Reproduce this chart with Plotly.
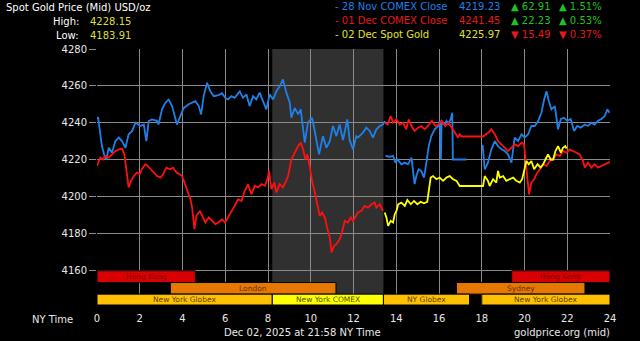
import plotly.graph_objects as go

# ---------------- data ----------------
nov28_hours = [0.0, 0.05, 0.23, 0.35, 0.44, 0.55, 0.7, 0.86, 1.02, 1.17, 1.33, 1.48, 1.64, 1.8, 2.03, 2.19, 2.31, 2.42,
               2.57, 2.81, 2.88, 3.04, 3.2, 3.35, 3.51, 3.67, 3.74, 3.9, 4.06, 4.29, 4.45, 4.6, 4.76, 4.87, 4.99, 5.15,
               5.3, 5.46, 5.69, 5.85, 6.0, 6.13, 6.29, 6.44, 6.68, 6.83, 6.99, 7.14, 7.3, 7.45, 7.61, 7.77, 7.92, 8.08,
               8.24, 8.39, 8.55, 8.7, 8.86, 9.02, 9.09, 9.25, 9.41, 9.53, 9.64, 9.72, 9.87, 10.06, 10.17, 10.39, 10.57,
               10.73, 10.89, 11.04, 11.2, 11.35, 11.51, 11.71, 11.82, 11.98, 12.13, 12.21, 12.44, 12.6, 12.76, 12.91,
               13.07, 13.23, 13.38, 13.47, None,
               13.5, 13.7, 13.85, 13.96, 14.07, 14.24, 14.4, 14.55, 14.71, 14.79, 14.86, 14.94, 15.05, 15.17, 15.3,
               15.41, 15.52, 15.64, 15.8, 15.95, 16.06, 16.09, 16.12, 16.27, 16.35, 16.45, 16.55, 16.62, 16.65, 17.28,
               None,
               18.04, 18.14, 18.22, 18.29, 18.45, 18.61, 18.76, 18.92, 19.08, 19.23, 19.39, 19.47, 19.54, 19.7, 19.86,
               20.01, 20.17, 20.32, 20.48, 20.64, 20.79, 20.92, 21.03, 21.13, 21.26, 21.42, 21.57, 21.7, 21.85, 22.0,
               22.16, 22.32, 22.47, 22.63, 22.82, 22.97, 23.13, 23.28, 23.44, 23.6, 23.75, 23.88, 23.98]
nov28_price = [4241.8, 4243, 4227.3, 4221.9, 4220, 4226.4, 4223.7, 4230, 4231.9, 4230, 4226.4, 4233.7, 4235.4, 4240,
               4238.2, 4239, 4230, 4240.9, 4241.8, 4241, 4239, 4247.2, 4250.8, 4252.6, 4249, 4242.7, 4239, 4243.6,
               4248, 4250, 4250.8, 4251.7, 4249, 4244.5, 4254.4, 4261.7, 4257, 4254.4, 4255, 4256, 4253.5, 4252.6,
               4254.4, 4253.5, 4257, 4253.5, 4255.4, 4249, 4254.4, 4252.6, 4256.3, 4251, 4247.2, 4255.4, 4252.6, 4257,
               4259.8, 4263.5, 4256.3, 4250.8, 4242.7, 4248, 4244.5, 4247.2, 4238.2, 4229.2, 4240, 4242.7, 4236.4,
               4222.8, 4232.7, 4226.4, 4230, 4238.2, 4232.7, 4239, 4230.5, 4241.8, 4230.5, 4225.5, 4232.7, 4231.9,
               4234.6, 4237.3, 4235.5, 4231.9, 4236.4, 4238.2, 4239, 4240.9, None,
               4221.9, 4221.5, 4222, 4218.3, 4220, 4217.4, 4218.3, 4217.4, 4221, 4213.8, 4206.6, 4211, 4214.7, 4213.8,
               4210.2, 4218.3, 4227.3, 4232.7, 4236.4, 4238, 4241, 4220, 4240, 4239, 4241, 4239.5, 4242, 4245.4, 4220,
               4220, None,
               4228, 4214.7, 4216.5, 4218.3, 4225.5, 4230, 4227.3, 4225.5, 4224.6, 4222.8, 4218.3, 4226.4, 4231.9,
               4230, 4233.7, 4231.9, 4233.7, 4238.2, 4238.2, 4240.9, 4245.4, 4252.6, 4257.1, 4252, 4247.2, 4249,
               4236.4, 4242, 4242.7, 4241, 4242, 4235.5, 4238.2, 4237.3, 4239, 4238.2, 4240, 4239, 4241, 4242, 4243.6,
               4247.2, 4245.4]

dec01_hours = [0.0, 0.08, 0.15, 0.28, 0.39, 0.55, 0.7, 0.86, 1.02, 1.17, 1.28, 1.4, 1.48, 1.59, 1.72, 1.87, 2.0, 2.1,
               2.26, 2.37, 2.5, 2.65, 2.81, 2.97, 3.09, 3.25, 3.41, 3.56, 3.72, 3.87, 3.98, 4.09, 4.21, 4.37, 4.45,
               4.56, 4.65, 4.81, 4.92, 5.07, 5.23, 5.38, 5.54, 5.69, 5.85, 5.99, 6.13, 6.29, 6.44, 6.6, 6.76, 6.91,
               7.07, 7.22, 7.38, 7.54, 7.69, 7.85, 7.97, 8.05, 8.16, 8.29, 8.39, 8.55, 8.7, 8.81, 8.94, 9.09, 9.25,
               9.41, 9.53, 9.64, 9.75, 9.84, 9.95, 10.06, 10.19, 10.31, 10.42, 10.53, 10.66, 10.78, 10.89, 10.97,
               11.09, 11.2, 11.35, 11.46, 11.59, 11.74, 11.87, 11.98, 12.13, 12.21, 12.37, 12.52, 12.68, 12.84,
               12.99, 13.07, 13.23, 13.38, None,
               13.49, 13.6, 13.74, 13.85, 14.01, 14.16, 14.32, 14.47, 14.58, 14.71, 14.86, 15.02, 15.17, 15.33,
               15.48, 15.67, 15.83, 15.98, 16.13, 16.29, 16.45, 16.6, 16.73, 16.89, 16.97, 17.05, 18.06, 18.2, 18.35,
               18.45, 18.61, 18.76, 18.92, 19.08, 19.23, 19.39, 19.54, 19.7, 19.86, 19.98, 20.04, 20.14, 20.21,
               20.32, 20.45, 20.56, 20.71, 20.87, 21.03, 21.18, 21.34, 21.49, 21.65, 21.8, 21.96, 22.11, 22.27,
               22.42, 22.58, 22.74, 22.82, 22.97, 23.13, 23.28, 23.44, 23.6, 23.75, 23.91, 24.0]
dec01_price = [4216.5, 4219.2, 4221, 4220, 4221.9, 4221, 4222.8, 4224.6, 4225.5, 4225.8, 4222.8, 4210.2, 4204.8,
               4208.3, 4211, 4212.9, 4212, 4214.7, 4217.4, 4216.5, 4214.7, 4212.9, 4211, 4210.2, 4212, 4215.6,
               4214.7, 4215.6, 4212.9, 4212, 4211, 4207.5, 4203.9, 4198.4, 4193.9, 4182.2, 4189.4, 4192.1, 4189.4,
               4185.8, 4188.5, 4186.7, 4184.9, 4185.8, 4187.6, 4185.8, 4188.5, 4192.1, 4194.8, 4198.4, 4197.5,
               4203, 4206.6, 4201.1, 4205.7, 4204.8, 4206.6, 4205.7, 4209.3, 4213.8, 4203.9, 4207.5, 4202.1, 4206.6,
               4204.8, 4207.5, 4211, 4220, 4223.7, 4227.3, 4229.2, 4225.5, 4220, 4222.8, 4216.5, 4208.4, 4202.1,
               4194.8, 4189.4, 4191.2, 4188.5, 4182.2, 4177.7, 4169.5, 4173.1, 4174, 4176.7, 4180.4, 4186.7, 4185.8,
               4188.5, 4186.7, 4189.4, 4191.2, 4192.1, 4194.8, 4193.9, 4195.7, 4196.6, 4193.9, 4195.7, 4192.1, None,
               4240, 4239, 4243.6, 4240, 4241.8, 4239, 4240, 4236.4, 4241.8, 4238.2, 4235.5, 4237.3, 4238.2, 4236.4,
               4238.2, 4241, 4238.2, 4239, 4241, 4238.2, 4240, 4237.3, 4234.6, 4231.9, 4233.7, 4232.5, 4232.5,
               4233.5, 4235, 4236.4, 4233.7, 4230, 4228.2, 4226.4, 4224.6, 4226.4, 4228.2, 4227.3, 4229.1, 4228.2,
               4220, 4209.3, 4201.1, 4207.5, 4209.3, 4212, 4214.7, 4217.4, 4216.5, 4219.2, 4220, 4222.8, 4221.9,
               4224.6, 4223.7, 4225.5, 4224.6, 4223.7, 4222.8, 4219.2, 4215.6, 4218.3, 4215.6, 4217.4, 4215.6,
               4216.5, 4217.4, 4218.3, 4218.7]

dec02_hours = [13.46, 13.54, 13.62, 13.74, 13.85, 13.93, 14.01, 14.09, 14.24, 14.4, 14.52, 14.68, 14.83, 14.99,
               15.14, 15.3, 15.45, 15.52, 15.61, 15.72, 15.88, 16.03, 16.19, 16.35, 16.5, 16.66, 16.82, 16.97, 18.06,
               18.14, 18.29, 18.37, 18.53, 18.68, 18.76, 18.84, 19.0, 19.15, 19.31, 19.47, 19.62, 19.78, 19.89,
               20.01, 20.09, 20.2, 20.32, 20.45, 20.61, 20.76, 20.87, 20.98, 21.1, 21.23, 21.34, 21.45, 21.57, 21.7,
               21.8, 21.91, 21.97]
dec02_price = [4191.2, 4188.5, 4184, 4186.7, 4185.8, 4190.3, 4192.1, 4195.7, 4196.6, 4194.8, 4198, 4195.7, 4197.5,
               4195.7, 4197, 4196.2, 4197, 4202, 4210.2, 4211, 4209.3, 4210.2, 4208.4, 4210.2, 4211, 4209.3, 4208.4,
               4205.6, 4205.6, 4211, 4208.4, 4205.6, 4209.3, 4207.5, 4213.8, 4210.2, 4211, 4208.4, 4209.3, 4210.2,
               4208.4, 4207.5, 4209.3, 4215.6, 4219.2, 4217.4, 4219.2, 4214.7, 4217.4, 4215.6, 4217.4, 4220, 4222.8,
               4220, 4220, 4224.6, 4227.3, 4223.7, 4226.4, 4227.3, 4225.97]

y_ticks = [4160, 4180, 4200, 4220, 4240, 4260, 4280]
x_ticks = list(range(0, 25, 2))

# sessions: (label, start hour, end hour, row)
sessions = [
    ("Hong Kong", 0.0, 4.6, 0), ("Hong Kong", 19.4, 24.0, 0),
    ("London", 3.43, 11.18, 1), ("Sydney", 16.82, 22.83, 1),
    ("New York Globex", 0.0, 8.2, 2), ("New York COMEX", 8.2, 13.4, 2),
    ("NY Globex", 13.4, 17.43, 2), ("New York Globex", 18.0, 24.0, 2),
]
comex_shade = (8.2, 13.4)

legend_rows = [
    ("- 28 Nov COMEX Close", "4219.23", "▲ 62.91", "▲ 1.51%"),
    ("- 01 Dec COMEX Close", "4241.45", "▲ 22.23", "▲ 0.53%"),
    ("- 02 Dec Spot Gold", "4225.97", "▼ 15.49", "▼ 0.37%"),
]
high_low = [("High:", "4228.15"), ("Low:", "4183.91")]

# ---------------- styling ----------------
BLUE = "#1f80e8"
RED = "#ff1010"
YELLOW = "#ffff00"
GREEN = "#22c022"
GRID = "#8a8a8a"
FONT = "DejaVu Sans"
row_y = [(4153.2, 4159.6), (4146.9, 4153.2), (4141.0, 4146.9)]
sess_fill = {"Hong Kong": "#d80000", "London": "#e67800", "Sydney": "#e67800",
             "New York Globex": "#ffc000", "NY Globex": "#ffc000", "New York COMEX": "#ffff00"}
sess_text = {"Hong Kong": "#800000", "London": "#6a3000", "Sydney": "#6a3000",
             "New York Globex": "#5a4000", "NY Globex": "#5a4000", "New York COMEX": "#505000"}

L, R, T, B = 97, 30, 49, 36
W, H = 640 - L - R, 341 - T - B


def px(x):
    return (x - L) / W


def py(y):
    return (341 - B - y) / H


fig = go.Figure()
for hrs, pr, col, nm in [(nov28_hours, nov28_price, BLUE, "28 Nov"),
                         (dec01_hours, dec01_price, RED, "01 Dec"),
                         (dec02_hours, dec02_price, YELLOW, "02 Dec")]:
    fig.add_trace(go.Scatter(x=hrs, y=pr, mode="lines", name=nm,
                             line=dict(color=col, width=1.8), connectgaps=False))

shapes = [dict(type="rect", xref="x", yref="paper", x0=comex_shade[0], x1=comex_shade[1], y0=0, y1=1,
               fillcolor="#303030", line=dict(width=0), layer="below")]
annotations = []
for name, s, e, r in sessions:
    y0, y1 = row_y[r]
    shapes.append(dict(type="rect", xref="x", yref="y", x0=s, x1=e, y0=y0, y1=y1,
                       fillcolor=sess_fill[name], line=dict(color="#000000", width=1), layer="between"))
    annotations.append(dict(x=(s + e) / 2, y=(y0 + y1) / 2, xref="x", yref="y", text=name, showarrow=False,
                            font=dict(family=FONT, size=7.5, color=sess_text[name]),
                            xanchor="center", yanchor="middle"))

# header text
annotations.append(dict(x=px(4), y=py(7), xref="paper", yref="paper", text="Spot Gold Price (Mid) USD/oz",
                        showarrow=False, xanchor="left", yanchor="middle",
                        font=dict(family=FONT, size=10, color="#ffffff")))
for i, (lab, val) in enumerate(high_low):
    yy = [21, 35][i]
    annotations.append(dict(x=px(81), y=py(yy), xref="paper", yref="paper", text=lab, showarrow=False,
                            xanchor="right", yanchor="middle", font=dict(family=FONT, size=10, color="#ffffff")))
    annotations.append(dict(x=px(88), y=py(yy), xref="paper", yref="paper", text=val, showarrow=False,
                            xanchor="left", yanchor="middle", font=dict(family=FONT, size=10, color="#dede3a")))

row_colors = [BLUE, "#e81818", "#e0e030"]
chg_colors = [GREEN, GREEN, "#e81818"]
for i, (lab, close, chg, pct) in enumerate(legend_rows):
    yy = [6, 20, 34][i]
    for xx, txt, col in [(333, lab, row_colors[i]), (457, close, row_colors[i]),
                         (509, chg, chg_colors[i]), (557, pct, chg_colors[i])]:
        annotations.append(dict(x=px(xx), y=py(yy), xref="paper", yref="paper", text=txt, showarrow=False,
                                xanchor="left", yanchor="middle", font=dict(family=FONT, size=10, color=col)))

annotations.append(dict(x=px(75), y=py(319), xref="paper", yref="paper", text="NY Time", showarrow=False,
                        xanchor="right", yanchor="middle", font=dict(family=FONT, size=10, color="#e8e8e8")))
annotations.append(dict(x=px(302), y=py(332), xref="paper", yref="paper", text="Dec 02, 2025 at 21:58 NY Time",
                        showarrow=False, xanchor="center", yanchor="middle",
                        font=dict(family=FONT, size=10, color="#e8e8e8")))
annotations.append(dict(x=px(612), y=py(332), xref="paper", yref="paper", text="goldprice.org (mid)",
                        showarrow=False, xanchor="right", yanchor="middle",
                        font=dict(family=FONT, size=10, color="#e8e8e8")))

fig.update_layout(
    width=640, height=341,
    margin=dict(l=L, r=R, t=T, b=B, pad=0),
    paper_bgcolor="#000000", plot_bgcolor="#000000",
    showlegend=False,
    shapes=shapes, annotations=annotations,
    xaxis=dict(range=[0, 24], tickvals=x_ticks, ticktext=[str(v) for v in x_ticks], showgrid=True,
               gridcolor=GRID, gridwidth=1, zeroline=False, showline=False, ticks="outside", ticklen=4,
               tickcolor="#000000", tickfont=dict(family=FONT, size=10, color="#e8e8e8"), fixedrange=True),
    yaxis=dict(range=[4141, 4280], tickvals=y_ticks, ticktext=[str(v) for v in y_ticks], showgrid=True,
               gridcolor=GRID, gridwidth=1, zeroline=False, showline=False, ticks="outside", ticklen=7,
               tickcolor=GRID, tickfont=dict(family=FONT, size=10, color="#e8e8e8"), fixedrange=True),
)

fig.write_html("out.html")
